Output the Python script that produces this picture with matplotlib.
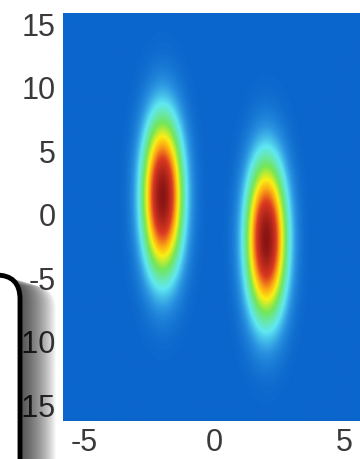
import numpy as np
import matplotlib
matplotlib.use("Agg")
import matplotlib.pyplot as plt
from matplotlib.colors import LinearSegmentedColormap
from matplotlib.patches import FancyBboxPatch

plt.rcParams["axes.unicode_minus"] = False

# ---- data ----
blob_x = [-2.0, 2.0]          # blob centres, x
blob_y = [1.4, -2.0]          # blob centres, y
blob_amp = [1.0, 1.0]         # peak heights
blob_sx = [0.5, 0.5]          # spread along x
blob_sy = [3.9, 3.9]          # spread along y
x_range = [-5.83, 5.83]
y_range = [-16.3, 15.8]
xticks = [-5, 0, 5]
yticks = [-15, -10, -5, 0, 5, 10, 15]

# colour ramp (background blue -> cyan -> green -> yellow -> red -> dark red)
cm_pos = [0.0, 0.07, 0.17, 0.33, 0.48, 0.6, 0.75, 1.0]
cm_col = ["#0b66cc", "#2a93e0", "#5fe8f2", "#72e65a", "#fbef14", "#fba514", "#dc3a22", "#8a1414"]
cmap = LinearSegmentedColormap.from_list("ramp", list(zip(cm_pos, cm_col)))

xs = np.linspace(x_range[0], x_range[1], 400)
ys = np.linspace(y_range[0], y_range[1], 500)
X, Y = np.meshgrid(xs, ys)
Z = np.zeros_like(X)
for cx, cy, a, sx, sy in zip(blob_x, blob_y, blob_amp, blob_sx, blob_sy):
    Z += a * np.exp(-((X - cx) ** 2 / (2 * sx ** 2) + (Y - cy) ** 2 / (2 * sy ** 2)))

W, H = 360, 460
fig = plt.figure(figsize=(W / 100, H / 100), dpi=100)
ax = fig.add_axes([62.7 / W, (H - 422) / H, 303 / W, 408 / H])
ax.imshow(Z, extent=[x_range[0], x_range[1], y_range[0], y_range[1]], origin="lower",
          aspect="auto", cmap=cmap, vmin=0, vmax=1, interpolation="bilinear")
ax.set_xlim(x_range)
ax.set_ylim(y_range)
ax.set_xticks(xticks)
ax.set_yticks(yticks)
ax.set_xticklabels([str(t) for t in xticks])
ax.set_yticklabels([str(t) for t in yticks])
for s in ax.spines.values():
    s.set_visible(False)
ax.tick_params(length=0, labelsize=22, labelcolor="#3a3a3a", pad=5)
ax.tick_params(axis="x", pad=4)
for lab in ax.get_xticklabels() + ax.get_yticklabels():
    lab.set_fontfamily("Liberation Sans")

# overlay: rounded box with soft shadow at lower-left
ov = fig.add_axes([0, 0, 1, 1], zorder=10)
ov.set_xlim(0, W)
ov.set_ylim(H, 0)
ov.axis("off")
ov.patch.set_alpha(0)
N = 36
for i in range(N, 0, -1):
    sh = FancyBboxPatch((-80 + i, 276 + i * 0.3), 100, 260,
                        boxstyle="round,pad=0,rounding_size=24",
                        fc="black", ec="none", alpha=0.026)
    ov.add_patch(sh)
box = FancyBboxPatch((-80, 276), 100, 260, boxstyle="round,pad=0,rounding_size=24",
                     fc="white", ec="black", lw=3.5)
ov.add_patch(box)

fig.savefig("out.png", dpi=100)
